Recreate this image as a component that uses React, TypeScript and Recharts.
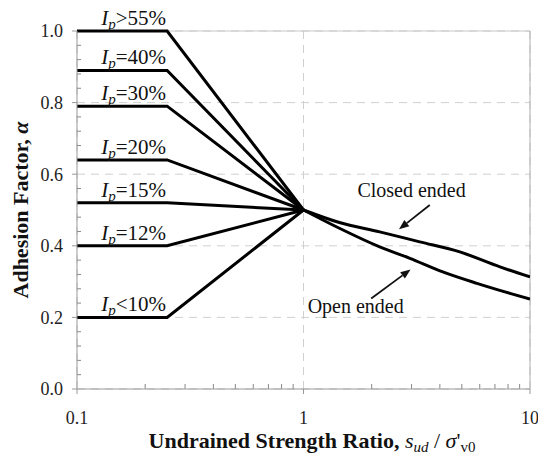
import React from "react";
import {
  ComposedChart,
  Line,
  XAxis,
  YAxis,
  CartesianGrid,
  ReferenceLine,
  ReferenceDot,
  Label,
} from "recharts";

// plasticity index curves: flat from 0.1 to 0.25, then to the pivot at 1
const ipNames = [">55%", "=40%", "=30%", "=20%", "=15%", "=12%", "<10%"];
const ipAlpha = [1.0, 0.89, 0.79, 0.64, 0.52, 0.4, 0.2];
const ratioStart = 0.1;
const ratioBreak = 0.25;
const ratioPivot = 1;
const alphaPivot = 0.5;

const closedRatio = [1, 1.44, 2.17, 3.26, 4.9, 7.37, 10];
const closedAlpha = [0.5, 0.465, 0.439, 0.411, 0.383, 0.341, 0.313];
const openRatio = [1, 1.44, 2.17, 2.95, 4.12, 5.83, 8.16, 10];
const openAlpha = [0.5, 0.449, 0.397, 0.365, 0.327, 0.295, 0.267, 0.251];

const xTicks = [0.1, 1, 10];
const xMinorTicks = [0.2, 0.3, 0.4, 0.5, 0.6, 0.7, 0.8, 0.9, 2, 3, 4, 5, 6, 7, 8, 9];
const yTicks = [0, 0.2, 0.4, 0.6, 0.8, 1.0];
const yMinorTicks = [
  0.04, 0.08, 0.12, 0.16, 0.24, 0.28, 0.32, 0.36, 0.44, 0.48, 0.52, 0.56, 0.64,
  0.68, 0.72, 0.76, 0.84, 0.88, 0.92, 0.96,
];

// annotation anchors (data coords)
const ipLabelRatio = 0.128;
const closedText = { x: 3.0, y: 0.537 };
const openText = { x: 1.7, y: 0.211 };
const closedArrow = [
  { x: 3.61, y: 0.514 },
  { x: 2.64, y: 0.446 },
];
const openArrow = [
  { x: 1.99, y: 0.253 },
  { x: 2.97, y: 0.334 },
];

const serif = "'Liberation Serif', 'Times New Roman', serif";

const ipSeries = ipAlpha.map((a) => [
  { x: ratioStart, y: a },
  { x: ratioBreak, y: a },
  { x: ratioPivot, y: alphaPivot },
]);
const closedData = closedRatio.map((x, i) => ({ x, y: closedAlpha[i] }));
const openData = openRatio.map((x, i) => ({ x, y: openAlpha[i] }));

const fmtX = (v: number) => (v < 1 ? v.toFixed(1) : String(v));

const XTick = (p: any) => (
  <text
    x={p.x}
    y={p.y}
    dy="0.71em"
    textAnchor="middle"
    fontFamily={serif}
    fontSize={18}
    fill="#222"
  >
    {fmtX(p.payload.value)}
  </text>
);

const YTick = (p: any) => (
  <text
    x={p.x}
    y={p.y}
    dy="0.355em"
    textAnchor="end"
    fontFamily={serif}
    fontSize={18}
    fill="#222"
  >
    {Number(p.payload.value).toFixed(1)}
  </text>
);

// minor ticks: drawn from the segment start, pointing into the plot
const xMinorShape = (p: any) => (
  <line x1={p.x1} x2={p.x1} y1={p.y1} y2={p.y1 - 5} stroke="#888" strokeWidth={1} />
);
const yMinorShape = (p: any) => (
  <line x1={p.x1} x2={p.x1 + 4} y1={p.y1} y2={p.y1} stroke="#888" strokeWidth={1} />
);

const arrowShape = (p: any) => {
  const { x1, y1, x2, y2 } = p;
  const dx = x2 - x1;
  const dy = y2 - y1;
  const len = Math.sqrt(dx * dx + dy * dy) || 1;
  const ux = dx / len;
  const uy = dy / len;
  const hl = 10;
  const hw = 4;
  const bx = x2 - ux * hl;
  const by = y2 - uy * hl;
  return (
    <g>
      <line x1={x1} y1={y1} x2={bx} y2={by} stroke="#111" strokeWidth={1.8} />
      <polygon
        points={`${x2},${y2} ${bx - uy * hw},${by + ux * hw} ${bx + uy * hw},${by - ux * hw}`}
        fill="#111"
      />
    </g>
  );
};

const App = () => {
  return (
    <div style={{ position: "absolute", left: 0, top: 0, fontFamily: serif }}>
      <ComposedChart
        width={538}
        height={472}
        margin={{ top: 31, right: 8, left: 0, bottom: 0 }}
      >
        <CartesianGrid stroke="#d0d0d0" strokeDasharray="8 6" />
        <XAxis
          type="number"
          dataKey="x"
          scale="log"
          domain={[0.1, 10]}
          allowDataOverflow
          ticks={xTicks}
          height={83}
          tickSize={5}
          tickMargin={17}
          stroke="#999"
          tick={XTick}
        >
          <Label
            content={() => (
              <text
                x={312}
                y={448}
                textAnchor="middle"
                fontFamily={serif}
                fontSize={22}
                fill="#111"
              >
                <tspan fontWeight="bold">Undrained Strength Ratio, </tspan>
                <tspan fontStyle="italic">s</tspan>
                <tspan fontStyle="italic" fontSize={15} dy={4}>ud</tspan>
                <tspan dy={-4}> / </tspan>
                <tspan fontStyle="italic">σ</tspan>
                <tspan>'</tspan>
                <tspan fontSize={15} dy={4}>v0</tspan>
              </text>
            )}
          />
        </XAxis>
        <YAxis
          type="number"
          domain={[0, 1]}
          ticks={yTicks}
          width={77}
          tickSize={5}
          tickMargin={9}
          stroke="#999"
          tick={YTick}
        >
          <Label
            content={() => (
              <text
                x={20}
                y={210}
                transform="rotate(-90, 20, 210)"
                textAnchor="middle"
                dominantBaseline="central"
                fontFamily={serif}
                fontSize={22}
                fontWeight="bold"
                fill="#111"
              >
                Adhesion Factor, <tspan fontStyle="italic">α</tspan>
              </text>
            )}
          />
        </YAxis>
        <ReferenceLine y={1} stroke="#c8c8c8" />
        <ReferenceLine x={10} stroke="#b0b0b0" />
        {xMinorTicks.map((v) => (
          <ReferenceLine
            key={"xm" + v}
            segment={[
              { x: v, y: 0 },
              { x: v, y: 0.01 },
            ]}
            shape={xMinorShape}
          />
        ))}
        {yMinorTicks.map((v) => (
          <ReferenceLine
            key={"ym" + v}
            segment={[
              { x: 0.1, y: v },
              { x: 0.101, y: v },
            ]}
            shape={yMinorShape}
          />
        ))}
        {ipSeries.map((d, i) => (
          <Line
            key={ipNames[i]}
            data={d}
            dataKey="y"
            type="linear"
            stroke="#000"
            strokeWidth={3}
            dot={false}
            isAnimationActive={false}
          />
        ))}
        <Line
          data={closedData}
          dataKey="y"
          type="monotone"
          stroke="#000"
          strokeWidth={3}
          dot={false}
          isAnimationActive={false}
        />
        <Line
          data={openData}
          dataKey="y"
          type="monotone"
          stroke="#000"
          strokeWidth={3}
          dot={false}
          isAnimationActive={false}
        />
        {ipAlpha.map((a, i) => (
          <ReferenceDot
            key={"lab" + i}
            x={ipLabelRatio}
            y={a}
            r={0}
            shape={(p: any) => (
              <text
                x={p.cx}
                y={p.cy - 6}
                fontFamily={serif}
                fontSize={21}
                fill="#111"
              >
                <tspan fontStyle="italic">I</tspan>
                <tspan fontStyle="italic" fontSize={15} dy={4}>p</tspan>
                <tspan dy={-4}>{ipNames[i]}</tspan>
              </text>
            )}
          />
        ))}
        <ReferenceDot
          x={closedText.x}
          y={closedText.y}
          r={0}
          shape={(p: any) => (
            <text x={p.cx} y={p.cy} textAnchor="middle" fontFamily={serif} fontSize={20} fill="#111">
              Closed ended
            </text>
          )}
        />
        <ReferenceDot
          x={openText.x}
          y={openText.y}
          r={0}
          shape={(p: any) => (
            <text x={p.cx} y={p.cy} textAnchor="middle" fontFamily={serif} fontSize={20} fill="#111">
              Open ended
            </text>
          )}
        />
        <ReferenceLine segment={closedArrow} shape={arrowShape} />
        <ReferenceLine segment={openArrow} shape={arrowShape} />
      </ComposedChart>
    </div>
  );
};

export default App;
